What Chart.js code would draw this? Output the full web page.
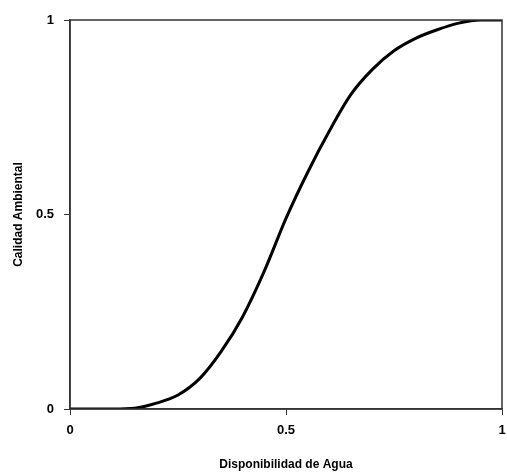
<!DOCTYPE html>
<html>
<head>
<meta charset="utf-8">
<script src="https://cdn.jsdelivr.net/npm/chart.js@4/dist/chart.umd.min.js"></script>
<style>
  body { margin: 0; background: #fff; }
  #wrap { width: 507px; height: 473px; }
</style>
</head>
<body>
<div id="wrap"><canvas id="grafico"></canvas></div>
<script>
// valores
var agua    = [0, 0.05, 0.1, 0.15, 0.2, 0.25, 0.3, 0.35, 0.4, 0.45, 0.5, 0.55, 0.6, 0.65, 0.7, 0.75, 0.8, 0.85, 0.9, 0.95, 1];
var calidad = [0, 0, 0, 0.002, 0.015, 0.036, 0.078, 0.148, 0.238, 0.355, 0.49, 0.608, 0.714, 0.808, 0.873, 0.921, 0.953, 0.975, 0.992, 1, 1];
var marcas  = [0, 0.5, 1];

var puntos = [];
for (var i in agua) {
  puntos.push({ x: agua[i], y: calidad[i] });
}

// marco alrededor del área del gráfico
var marco = {
  id: 'marco',
  afterDraw: function(chart) {
    var a = chart.chartArea, ctx = chart.ctx;
    ctx.save();
    ctx.strokeStyle = '#333';
    ctx.lineWidth = 1.5;
    ctx.strokeRect(a.left, a.top, a.right - a.left, a.bottom - a.top);
    ctx.restore();
  }
};

var fuenteTicks  = { family: 'Liberation Sans', size: 13, weight: 'bold' };
var fuenteTitulo = { family: 'Liberation Sans', size: 12, weight: 'bold' };

function ponerMarcas(s) {
  s.ticks = marcas.map(function(v) { return { value: v }; });
}

new Chart(document.getElementById('grafico'), {
  type: 'scatter',
  data: {
    datasets: [{
      data: puntos,
      showLine: true,
      borderColor: '#000',
      borderWidth: 3,
      pointRadius: 0,
      cubicInterpolationMode: 'monotone'
    }]
  },
  plugins: [marco],
  options: {
    responsive: true,
    maintainAspectRatio: false,
    animation: false,
    layout: { padding: { top: 20, right: 5, left: 0, bottom: 0 } },
    plugins: {
      legend: { display: false },
      tooltip: { enabled: false }
    },
    scales: {
      x: {
        type: 'linear',
        min: 0, max: 1,
        afterBuildTicks: ponerMarcas,
        afterFit: function(s) { s.height = 64; s.paddingLeft = 0; s.paddingRight = 0; },
        grid: { drawOnChartArea: false, drawTicks: true, tickLength: 6, color: '#333' },
        border: { color: '#333', width: 1.5 },
        ticks: { color: '#000', font: fuenteTicks, padding: 8, maxRotation: 0,
                 callback: function(v) { return String(v); } },
        title: { display: true, text: 'Disponibilidad de Agua', color: '#000', font: fuenteTitulo, padding: { top: 0, bottom: 1 } }
      },
      y: {
        type: 'linear',
        min: 0, max: 1,
        afterBuildTicks: ponerMarcas,
        afterFit: function(s) { s.width = 70; s.paddingTop = 0; s.paddingBottom = 0; },
        grid: { drawOnChartArea: false, drawTicks: true, tickLength: 6, color: '#333' },
        border: { color: '#333', width: 1.5 },
        ticks: { color: '#000', font: fuenteTicks, padding: 10,
                 callback: function(v) { return String(v); } },
        title: { display: true, text: 'Calidad Ambiental', color: '#000', font: fuenteTitulo, padding: { top: 11, bottom: 0 } }
      }
    }
  }
});
</script>
</body>
</html>
